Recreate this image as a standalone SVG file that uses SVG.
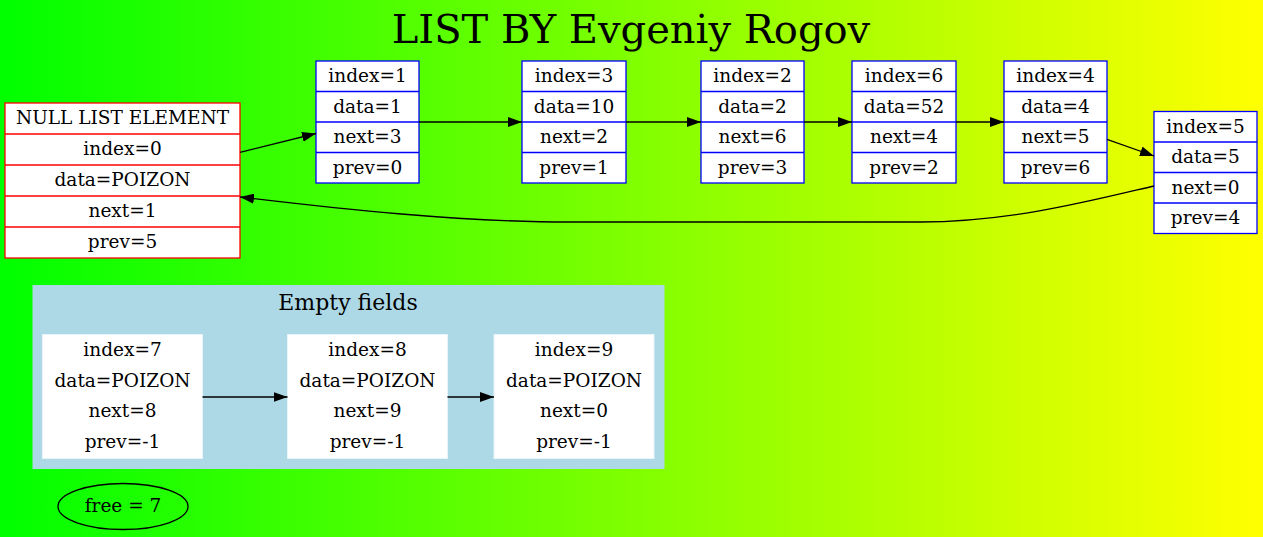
<svg xmlns="http://www.w3.org/2000/svg" width="1263" height="537" viewBox="0 0 1263 537">
<defs>
<linearGradient id="bg" x1="0" y1="0" x2="1" y2="0">
<stop offset="0" stop-color="#00ff00"/>
<stop offset="1" stop-color="#ffff00"/>
</linearGradient>
<marker id="ah" viewBox="0 0 14 10" markerWidth="14" markerHeight="10" refX="14" refY="5" orient="auto" markerUnits="userSpaceOnUse">
<path d="M0,0 L14,5 L0,10 z" fill="#000"/>
</marker>
</defs>
<style>
text{font-family:"DejaVu Serif","Liberation Serif",serif;font-size:18.5px;fill:#000;text-anchor:middle}
.title{font-size:40px}
.ctitle{font-size:22px}
.rec rect{fill:#fff;stroke:#0000ff;stroke-width:1.3}
.rec line{stroke:#0000ff;stroke-width:1.3}
.nul rect{fill:#fff;stroke:#ff0000;stroke-width:1.3}
.nul line{stroke:#ff0000;stroke-width:1.3}
.emp rect{fill:#fff;stroke:#e8f4f8;stroke-width:1}
.edge{fill:none;stroke:#000;stroke-width:1.3;marker-end:url(#ah)}
</style>
<rect x="0" y="0" width="1263" height="537" fill="url(#bg)"/>
<text class="title" x="631" y="43">LIST BY Evgeniy Rogov</text>

<g id="null" class="nul">
<rect x="5" y="103" width="235" height="155"/>
<line x1="5" y1="134" x2="240" y2="134"/>
<line x1="5" y1="165" x2="240" y2="165"/>
<line x1="5" y1="196" x2="240" y2="196"/>
<line x1="5" y1="227" x2="240" y2="227"/>
<text x="122.5" y="124">NULL LIST ELEMENT</text>
<text x="122.5" y="155">index=0</text>
<text x="122.5" y="186">data=POIZON</text>
<text x="122.5" y="217">next=1</text>
<text x="122.5" y="248">prev=5</text>
</g>

<g id="node1" class="rec">
<rect x="316" y="61" width="103" height="122"/>
<line x1="316" y1="91.5" x2="419" y2="91.5"/>
<line x1="316" y1="122" x2="419" y2="122"/>
<line x1="316" y1="152.5" x2="419" y2="152.5"/>
<text x="367.5" y="82">index=1</text>
<text x="367.5" y="112.5">data=1</text>
<text x="367.5" y="143">next=3</text>
<text x="367.5" y="173.5">prev=0</text>
</g>

<g id="node3" class="rec">
<rect x="522" y="61" width="104" height="122"/>
<line x1="522" y1="91.5" x2="626" y2="91.5"/>
<line x1="522" y1="122" x2="626" y2="122"/>
<line x1="522" y1="152.5" x2="626" y2="152.5"/>
<text x="574" y="82">index=3</text>
<text x="574" y="112.5">data=10</text>
<text x="574" y="143">next=2</text>
<text x="574" y="173.5">prev=1</text>
</g>

<g id="node2" class="rec">
<rect x="701" y="61" width="103" height="122"/>
<line x1="701" y1="91.5" x2="804" y2="91.5"/>
<line x1="701" y1="122" x2="804" y2="122"/>
<line x1="701" y1="152.5" x2="804" y2="152.5"/>
<text x="752.5" y="82">index=2</text>
<text x="752.5" y="112.5">data=2</text>
<text x="752.5" y="143">next=6</text>
<text x="752.5" y="173.5">prev=3</text>
</g>

<g id="node6" class="rec">
<rect x="852" y="61" width="104" height="122"/>
<line x1="852" y1="91.5" x2="956" y2="91.5"/>
<line x1="852" y1="122" x2="956" y2="122"/>
<line x1="852" y1="152.5" x2="956" y2="152.5"/>
<text x="904" y="82">index=6</text>
<text x="904" y="112.5">data=52</text>
<text x="904" y="143">next=4</text>
<text x="904" y="173.5">prev=2</text>
</g>

<g id="node4" class="rec">
<rect x="1004" y="61" width="103" height="122"/>
<line x1="1004" y1="91.5" x2="1107" y2="91.5"/>
<line x1="1004" y1="122" x2="1107" y2="122"/>
<line x1="1004" y1="152.5" x2="1107" y2="152.5"/>
<text x="1055.5" y="82">index=4</text>
<text x="1055.5" y="112.5">data=4</text>
<text x="1055.5" y="143">next=5</text>
<text x="1055.5" y="173.5">prev=6</text>
</g>

<g id="node5" class="rec">
<rect x="1154" y="111.5" width="103" height="122"/>
<line x1="1154" y1="142" x2="1257" y2="142"/>
<line x1="1154" y1="172.5" x2="1257" y2="172.5"/>
<line x1="1154" y1="203" x2="1257" y2="203"/>
<text x="1205.5" y="132.5">index=5</text>
<text x="1205.5" y="163">data=5</text>
<text x="1205.5" y="193.5">next=0</text>
<text x="1205.5" y="224">prev=4</text>
</g>

<g id="cluster_empty">
<rect x="32.5" y="285" width="632" height="184" fill="#add8e6"/>
<text class="ctitle" x="348" y="310">Empty fields</text>
</g>

<g id="node7" class="emp">
<rect x="42.5" y="334.5" width="160" height="124"/>
<text x="122.5" y="356">index=7</text>
<text x="122.5" y="386.5">data=POIZON</text>
<text x="122.5" y="417">next=8</text>
<text x="122.5" y="447.5">prev=-1</text>
</g>

<g id="node8" class="emp">
<rect x="287.5" y="334.5" width="160" height="124"/>
<text x="367.5" y="356">index=8</text>
<text x="367.5" y="386.5">data=POIZON</text>
<text x="367.5" y="417">next=9</text>
<text x="367.5" y="447.5">prev=-1</text>
</g>

<g id="node9" class="emp">
<rect x="494" y="334.5" width="160" height="124"/>
<text x="574" y="356">index=9</text>
<text x="574" y="386.5">data=POIZON</text>
<text x="574" y="417">next=0</text>
<text x="574" y="447.5">prev=-1</text>
</g>

<g id="free">
<ellipse cx="123" cy="506.5" rx="65" ry="23" fill="none" stroke="#000" stroke-width="1.3"/>
<text x="123" y="512">free = 7</text>
</g>

<g id="edges">
<path class="edge" d="M240,152.3 L316,133.5"/>
<path class="edge" d="M419,122 L522,122"/>
<path class="edge" d="M626,122 L701,122"/>
<path class="edge" d="M804,122 L852,122"/>
<path class="edge" d="M956,122 L1004,122"/>
<path class="edge" d="M1107,139.3 L1154,156"/>
<path class="edge" d="M1154,186 C1090,201 1010,222 920,222 L570,222 C460,222 340,209 240,197"/>
<path class="edge" d="M202.5,397 L287.5,397"/>
<path class="edge" d="M447.5,397 L494,397"/>
</g>
</svg>
